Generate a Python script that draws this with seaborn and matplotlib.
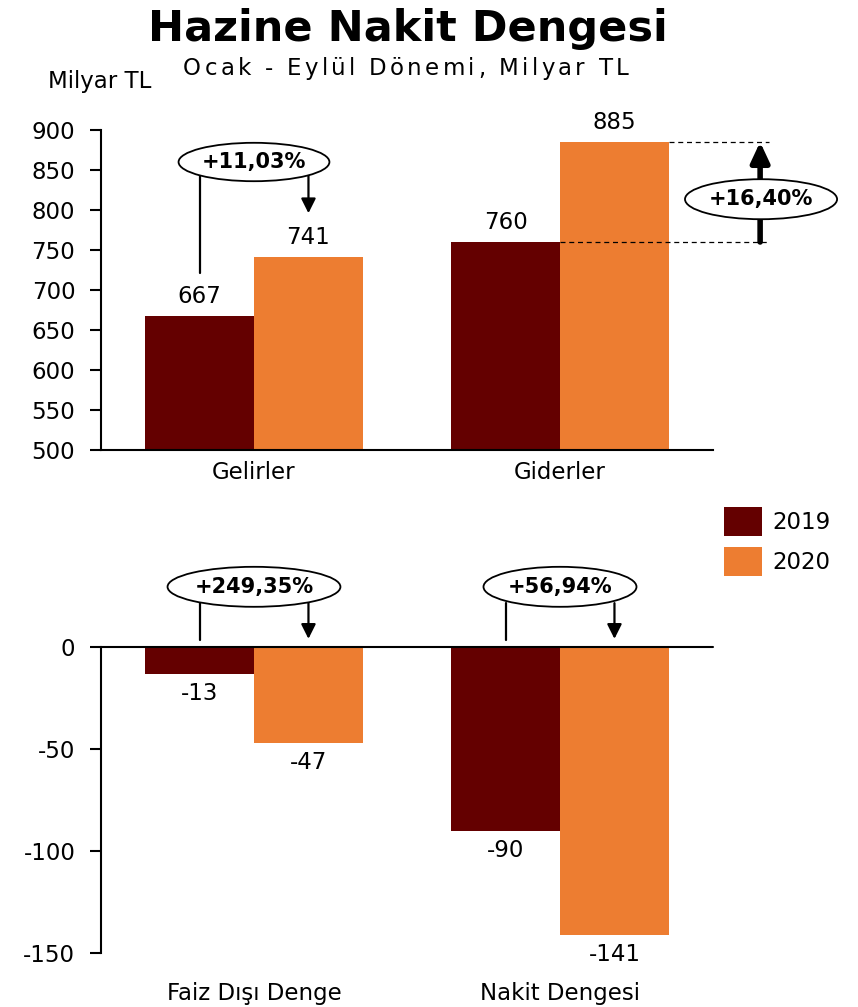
import matplotlib
matplotlib.use("Agg")
import matplotlib.pyplot as plt
from matplotlib.patches import Ellipse, Patch
import seaborn as sns
import pandas as pd

# ---- data -------------------------------------------------------------
years = ["2019", "2020"]
top_categories = ["Gelirler", "Giderler"]
top_2019 = [667, 760]
top_2020 = [741, 885]
bottom_categories = ["Faiz Dışı Denge", "Nakit Dengesi"]
bottom_2019 = [-13, -90]
bottom_2020 = [-47, -141]
changes_top = ["+11,03%", "+16,40%"]
changes_bottom = ["+249,35%", "+56,94%"]
top_ticks = [500, 550, 600, 650, 700, 750, 800, 850, 900]
bottom_ticks = [0, -50, -100, -150]

colors = {"2019": "#640000", "2020": "#ED7D31"}

sns.set_theme(style="white")
plt.rcParams["font.family"] = ["DejaVu Sans"]
plt.rcParams["axes.unicode_minus"] = False
for key in ("text.color", "axes.labelcolor", "xtick.color", "ytick.color"):
    plt.rcParams[key] = "black"
FS = 16.5
FS_BOLD = 15


def frame(cats, v19, v20):
    return pd.DataFrame({
        "kategori": cats * 2,
        "yil": [years[0]] * len(cats) + [years[1]] * len(cats),
        "deger": list(v19) + list(v20),
    })


fig = plt.figure(figsize=(8.58, 10.07), dpi=100)
ax1 = fig.add_axes([0.1177, 0.5531, 0.7133, 0.3178])
ax2 = fig.add_axes([0.1177, 0.0536, 0.7133, 0.3039])

BAR_W = 0.712
HALF = BAR_W / 4  # offset of each year's bar centre from the category centre

for ax, df in ((ax1, frame(top_categories, top_2019, top_2020)),
               (ax2, frame(bottom_categories, bottom_2019, bottom_2020))):
    sns.barplot(data=df, x="kategori", y="deger", hue="yil", palette=colors,
                width=BAR_W, saturation=1, linewidth=0, errorbar=None, ax=ax)
    ax.set_xlim(-0.5, 1.5)
    ax.set_xlabel("")
    ax.set_ylabel("")
    for s in ("top", "right"):
        ax.spines[s].set_visible(False)
    ax.spines["left"].set_color("black")
    ax.spines["left"].set_linewidth(1.5)
    ax.tick_params(axis="y", which="both", left=True, length=8, width=1.5,
                   color="black", labelsize=FS, pad=10.5)
    ax.tick_params(axis="x", bottom=False, labelsize=FS)
    ax.get_legend().remove()
    for cont in ax.containers:
        ax.bar_label(cont, labels=[f"{v:.0f}" for v in cont.datavalues],
                     fontsize=FS, padding=6)

# top panel axes
ax1.set_ylim(500, 900)
ax1.set_yticks(top_ticks)
ax1.spines["bottom"].set_color("black")
ax1.spines["bottom"].set_linewidth(1.5)
ax1.tick_params(axis="x", pad=2)

# bottom panel axes: zero line on top, category names at the bottom
ax2.set_ylim(-150, 0)
ax2.set_yticks(bottom_ticks)
ax2.spines["bottom"].set_visible(False)
ax2.tick_params(axis="x", pad=15)
ax2.plot([-0.5, 1.5], [0, 0], color="black", lw=1.5, clip_on=False, zorder=5)


def bubble(ax, x, y, w, h, text):
    ax.add_patch(Ellipse((x, y), w, h, facecolor="white", edgecolor="black",
                         lw=1.3, clip_on=False, zorder=6))
    ax.text(x, y, text, ha="center", va="center", fontsize=FS_BOLD,
            fontweight="bold", zorder=7, clip_on=False)


def connector(ax, x, y_top, y_bottom, y_tip):
    # plain stem from the 2019 bar, arrow down to the 2020 bar
    ax.plot([x - HALF, x - HALF], [y_top, y_bottom], color="black", lw=1.6,
            clip_on=False, zorder=5)
    ax.annotate("", xy=(x + HALF, y_tip), xytext=(x + HALF, y_top),
                arrowprops=dict(arrowstyle="-|>", color="black", lw=1.6,
                                mutation_scale=22, shrinkA=0, shrinkB=0),
                annotation_clip=False, zorder=5)


# Gelirler change
connector(ax1, 0, 845, 721, 796)
bubble(ax1, 0, 860, 0.493, 48, changes_top[0])

# Giderler change: dashed guides with a thick arrow on the right
x_arrow = 1.654
ax1.plot([1.0, 1.683], [top_2019[1]] * 2, ls=(0, (4, 3)), color="black",
         lw=0.9, clip_on=False, zorder=4)
ax1.plot([1.0 + BAR_W / 2, 1.683], [top_2020[1]] * 2, ls=(0, (4, 3)),
         color="black", lw=0.9, clip_on=False, zorder=4)
ax1.annotate("", xy=(x_arrow, top_2020[1]), xytext=(x_arrow, top_2019[1]),
             arrowprops=dict(arrowstyle="-|>,head_length=0.6,head_width=0.28",
                             color="black", lw=4, mutation_scale=20,
                             shrinkA=0, shrinkB=0),
             annotation_clip=False, zorder=5)
bubble(ax1, 1.657, 813.5, 0.497, 50, changes_top[1])

# bottom panel change bubbles
for i, txt in enumerate(changes_bottom):
    connector(ax2, i, 21.5, 3.5, 4.0)
    bubble(ax2, i, 29.5, 0.565 if i == 0 else 0.50, 19.6, txt)

# titles
fig.text(0.4755, 1 - 41 / 1007, "Hazine Nakit Dengesi", ha="center",
         va="baseline", fontsize=31, fontweight="bold")
fig.text(0.056, 1 - 88 / 1007, "Milyar TL", ha="left", va="baseline",
         fontsize=FS)


def tracked_text(fig, s, x_center_px, y_base_px, size, tracking_px):
    """Draw a string with extra letter spacing, centred on x_center_px."""
    renderer = fig.canvas.get_renderer()
    prop = matplotlib.font_manager.FontProperties(family="DejaVu Sans",
                                                  size=size)

    def advance(t):
        # advance width in pixels, robust to leading/trailing spaces
        w1, _, _ = renderer.get_text_width_height_descent("|" + t + "|", prop,
                                                          ismath=False)
        w0, _, _ = renderer.get_text_width_height_descent("||", prop,
                                                          ismath=False)
        return w1 - w0

    total = advance(s) + tracking_px * (len(s) - 1)
    x0 = x_center_px - total / 2
    for i, ch in enumerate(s):
        if ch == " ":
            continue
        x = x0 + advance(s[:i]) + tracking_px * i
        fig.text(x / fig.bbox.width, 1 - y_base_px / fig.bbox.height, ch,
                 fontproperties=prop, ha="left", va="baseline")


tracked_text(fig, "Ocak - Eylül Dönemi, Milyar TL", 406, 75, 16.5, 3.3)

# legend
handles = [Patch(facecolor=colors[y], edgecolor="none") for y in years]
fig.legend(handles, years, loc="upper left",
           bbox_to_anchor=(724 / 858, 1 - 507 / 1007), frameon=False,
           fontsize=FS, handlelength=1.65, handleheight=1.55,
           handletextpad=0.45, labelspacing=0.5, borderpad=0, borderaxespad=0)

fig.savefig("out.png", dpi=100)
